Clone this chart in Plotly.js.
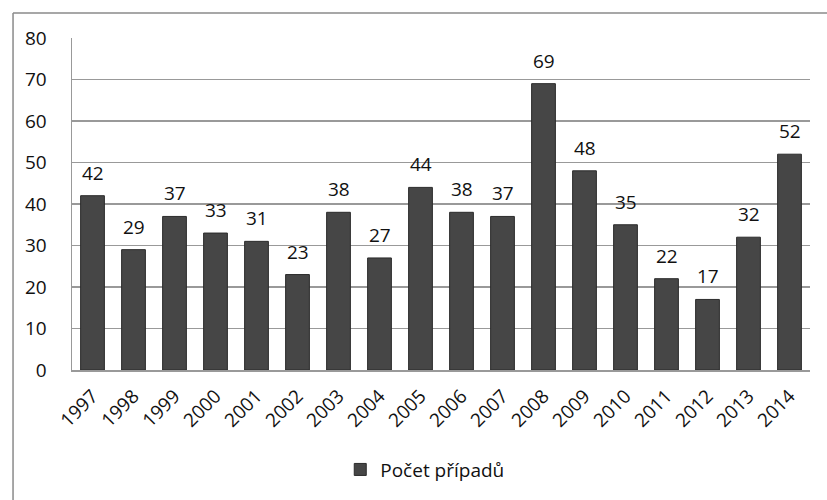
<!DOCTYPE html>
<html>
<head>
<meta charset="utf-8">
<script src="https://cdn.plot.ly/plotly-3.0.1.min.js"></script>
<style>html,body{margin:0;padding:0;background:#fff;}#chart{width:827px;height:500px;}</style>
</head>
<body>
<div id="chart"></div>
<script>
const years = ['1997','1998','1999','2000','2001','2002','2003','2004','2005','2006','2007','2008','2009','2010','2011','2012','2013','2014'];
const counts = [42,29,37,33,31,23,38,27,44,38,37,69,48,35,22,17,32,52];
const seriesName = 'Počet případů';
const yTicks = [0,10,20,30,40,50,60,70,80];

const font = '"Open Sans", Lato, sans-serif';
const fs = 19;

const trace = {
  type: 'bar',
  x: years,
  y: counts,
  name: seriesName,
  marker: {color: '#464646', line: {color: '#2b2b2b', width: 1}},
  showlegend: true
};

// category axis: annotation x given as category index
const labels = years.map((yr, i) => ({
  x: i, y: counts[i], xref: 'x', yref: 'y',
  text: String(counts[i]), showarrow: false,
  yanchor: 'bottom', yshift: 8,
  font: {family: font, size: fs, color: '#111'}
}));

const layout = {
  width: 827, height: 500,
  margin: {l: 72, r: 17, t: 38, b: 130},
  paper_bgcolor: '#fff', plot_bgcolor: '#fff',
  bargap: 0.42,
  font: {family: font, size: fs, color: '#111'},
  xaxis: {
    type: 'category',
    range: [-0.5, years.length - 0.5],
    tickangle: -45,
    tickfont: {family: font, size: fs, color: '#111'},
    showline: true, linecolor: '#999', linewidth: 1.5,
    showgrid: false, ticks: '', ticklabelstandoff: 6
  },
  yaxis: {
    range: [0, 80],
    tickvals: yTicks,
    ticktext: yTicks.map(String),
    tickfont: {family: font, size: fs, color: '#111'},
    showline: true, linecolor: '#999', linewidth: 1.5,
    showgrid: true, gridcolor: '#999', gridwidth: 1.5,
    zeroline: false, ticks: '', ticklabelstandoff: 20
  },
  showlegend: true,
  legend: {
    orientation: 'h', x: 0.478, xanchor: 'center', y: -0.3, yanchor: 'middle',
    font: {family: font, size: fs, color: '#111'},
    itemwidth: 30
  },
  annotations: labels,
  shapes: [
    {type: 'line', xref: 'paper', yref: 'paper', x0: -0.0799, x1: -0.0799, y0: -0.45, y1: 1.0753, line: {color: '#8a8a8a', width: 1.5}},
    {type: 'line', xref: 'paper', yref: 'paper', x0: -0.0799, x1: 1.1, y0: 1.0753, y1: 1.0753, line: {color: '#8a8a8a', width: 1.5}}
  ]
};

Plotly.newPlot('chart', [trace], layout, {displayModeBar: false, staticPlot: true});
</script>
</body>
</html>
